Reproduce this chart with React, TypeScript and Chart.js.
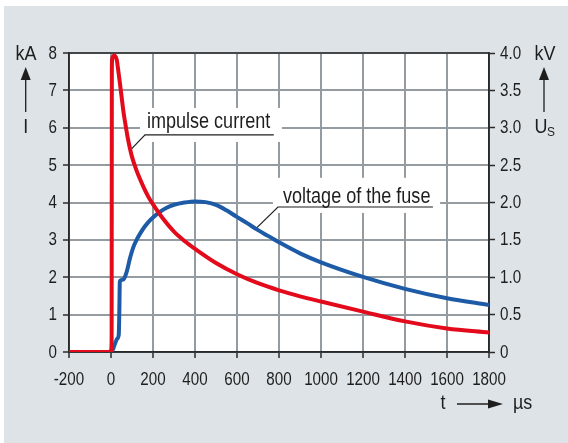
import React, { useEffect, useRef } from 'react';
import { Chart, registerables } from 'chart.js';

Chart.register(...registerables);

// ---- data ----
// impulse current I in kA over time t in µs
const currentTime = [-200, -10, 0, 3, 4, 7, 14, 22, 28, 33, 40, 50, 60, 70, 80, 90, 100, 120, 140, 160, 180, 200, 250, 300, 350, 400, 500, 600, 700, 800, 900, 1000, 1200, 1400, 1600, 1800];
const currentKA = [0, 0, 0.03, 0.3, 7.6, 7.88, 7.93, 7.9, 7.8, 7.6, 7.3, 6.85, 6.4, 6.05, 5.72, 5.45, 5.22, 4.88, 4.6, 4.35, 4.13, 3.95, 3.55, 3.22, 2.97, 2.76, 2.38, 2.08, 1.84, 1.65, 1.49, 1.35, 1.08, 0.82, 0.63, 0.52];

// voltage of the fuse U_S in kV over time t in µs
const voltageTime = [-200, -5, 10, 19, 30, 37, 40, 42, 46, 52, 59, 75, 90, 106, 122, 140, 160, 180, 200, 233, 265, 300, 350, 400, 450, 503, 550, 595, 650, 694, 750, 805, 900, 1000, 1200, 1400, 1600, 1800];
const voltageKV = [0, 0, 0.04, 0.11, 0.18, 0.23, 0.6, 0.94, 0.96, 0.965, 0.97, 1.075, 1.25, 1.4, 1.5, 1.59, 1.675, 1.745, 1.8, 1.875, 1.93, 1.97, 2.0, 2.015, 2.005, 1.965, 1.895, 1.815, 1.72, 1.64, 1.55, 1.46, 1.32, 1.2, 1.005, 0.845, 0.72, 0.63];

const timeRange = [-200, 1800];
const timeStep = 200;
const currentRange = [0, 8];
const currentStep = 1;
const voltageRange = [0, 4];
const voltageStep = 0.5;

const labelCurrent = 'impulse current';
const labelVoltage = 'voltage of the fuse';

// ---- styling ----
const FONT = '"Liberation Sans", Arial, sans-serif';
const NARROW = 0.82;
const TEXT = '#1e1e1e';
const PANEL = '#dde3e7';
const GRID = '#949ca2';
const AXIS = '#2a2a2a';
const RED = '#e30a1c';
const BLUE = '#1d5ba6';

function narrowText(
  ctx: CanvasRenderingContext2D,
  text: string,
  x: number,
  y: number,
  size: number,
  align: CanvasTextAlign = 'left',
  baseline: CanvasTextBaseline = 'alphabetic',
  squeeze: number = NARROW
) {
  ctx.save();
  ctx.translate(x, y);
  ctx.scale(squeeze, 1);
  ctx.font = `${size}px ${FONT}`;
  ctx.textAlign = align;
  ctx.textBaseline = baseline;
  ctx.fillText(text, 0, 0);
  ctx.restore();
}

function arrowUp(ctx: CanvasRenderingContext2D, x: number, yTop: number, yBottom: number) {
  ctx.beginPath();
  ctx.moveTo(x, yBottom);
  ctx.lineTo(x, yTop + 10);
  ctx.stroke();
  ctx.beginPath();
  ctx.moveTo(x, yTop);
  ctx.lineTo(x - 5, yTop + 13);
  ctx.lineTo(x + 5, yTop + 13);
  ctx.closePath();
  ctx.fill();
}

function arrowRight(ctx: CanvasRenderingContext2D, xLeft: number, xRight: number, y: number) {
  ctx.beginPath();
  ctx.moveTo(xLeft, y);
  ctx.lineTo(xRight - 10, y);
  ctx.stroke();
  ctx.beginPath();
  ctx.moveTo(xRight, y);
  ctx.lineTo(xRight - 15, y - 4.5);
  ctx.lineTo(xRight - 15, y + 4.5);
  ctx.closePath();
  ctx.fill();
}

const fmtV = (v: number) => (v === 0 ? '0' : v.toFixed(1));

const decorPlugin = {
  id: 'decor',
  beforeDraw(chart: any) {
    const { ctx, width, height, chartArea: a } = chart;
    ctx.save();
    ctx.fillStyle = '#ffffff';
    ctx.fillRect(0, 0, width, height);
    ctx.fillStyle = PANEL;
    ctx.fillRect(4, 6, width - 4, height - 6);
    ctx.fillStyle = '#ffffff';
    ctx.fillRect(a.left, a.top, a.right - a.left, a.bottom - a.top);
    ctx.restore();
  },
  beforeDatasetsDraw(chart: any) {
    const { ctx, chartArea: a, scales } = chart;
    const sx = scales.x;
    const sy = scales.y;
    ctx.save();
    // frame
    ctx.strokeStyle = AXIS;
    ctx.lineWidth = 1.5;
    ctx.strokeRect(a.left, a.top, a.right - a.left, a.bottom - a.top);

    const drawLabel = (
      text: string,
      box: [number, number, number, number],
      textAt: [number, number],
      underline: [number, number, number],
      leaderTo: [number, number]
    ) => {
      const bx0 = sx.getPixelForValue(box[0]);
      const bx1 = sx.getPixelForValue(box[1]);
      const by0 = sy.getPixelForValue(box[2]);
      const by1 = sy.getPixelForValue(box[3]);
      ctx.fillStyle = '#ffffff';
      ctx.fillRect(bx0, by0, bx1 - bx0, by1 - by0);
      ctx.fillStyle = TEXT;
      narrowText(ctx, text, sx.getPixelForValue(textAt[0]), sy.getPixelForValue(textAt[1]), 22);
      const uy = sy.getPixelForValue(underline[2]);
      const ux0 = sx.getPixelForValue(underline[0]);
      const ux1 = sx.getPixelForValue(underline[1]);
      ctx.strokeStyle = '#1e1e1e';
      ctx.lineWidth = 1.2;
      ctx.beginPath();
      ctx.moveTo(ux1, uy);
      ctx.lineTo(ux0, uy);
      ctx.lineTo(sx.getPixelForValue(leaderTo[0]), sy.getPixelForValue(leaderTo[1]));
      ctx.stroke();
    };

    drawLabel(labelCurrent, [138, 814, 6.53, 5.62], [171, 6.0], [162, 775, 5.81], [92, 5.4]);
    drawLabel(labelVoltage, [771, 1567, 4.66, 3.72], [819, 3.99], [795, 1533, 3.88], [690, 3.3]);
    ctx.restore();
  },
  afterDraw(chart: any) {
    const { ctx, scales } = chart;
    const sx = scales.x;
    const sy = scales.y;
    const sy2 = scales.y2;
    ctx.save();
    ctx.fillStyle = TEXT;
    ctx.strokeStyle = TEXT;
    ctx.lineWidth = 1.3;

    // tick labels, positioned through the scales
    const bottom = sx.top;
    sx.ticks.forEach((t: any) => {
      narrowText(ctx, String(t.value), sx.getPixelForValue(t.value), bottom + 28, 18.5, 'center', 'middle');
    });
    sy.ticks.forEach((t: any) => {
      narrowText(ctx, String(t.value), sy.right - 12, sy.getPixelForValue(t.value) + 0.5, 18.5, 'right', 'middle');
    });
    sy2.ticks.forEach((t: any) => {
      narrowText(ctx, fmtV(t.value), sy2.left + 11, sy2.getPixelForValue(t.value) + 0.5, 18.5, 'left', 'middle');
    });

    // left axis unit
    narrowText(ctx, 'kA', 26, 60, 19.5, 'center', 'alphabetic', 0.92);
    arrowUp(ctx, 25.7, 67, 112);
    narrowText(ctx, 'I', 25.7, 133, 19.5, 'center', 'alphabetic', 0.92);
    // right axis unit
    narrowText(ctx, 'kV', 545, 60, 19.5, 'center', 'alphabetic', 0.92);
    arrowUp(ctx, 544, 67, 112);
    narrowText(ctx, 'U', 534.5, 133, 19.5, 'left', 'alphabetic', 0.92);
    narrowText(ctx, 'S', 547, 136, 13, 'left', 'alphabetic', 0.92);
    // bottom axis unit
    narrowText(ctx, 't', 443, 409, 19.5, 'center', 'alphabetic', 0.92);
    arrowRight(ctx, 457, 503, 404);
    narrowText(ctx, 'µs', 513, 409, 19.5, 'left', 'alphabetic', 0.92);
    ctx.restore();
  },
};

export default function App() {
  const canvasRef = useRef<HTMLCanvasElement | null>(null);

  useEffect(() => {
    document.body.style.margin = '0';
    const canvas = canvasRef.current;
    if (!canvas) return;
    const gridCommon = { tickLength: 6, tickColor: AXIS, tickWidth: 1.5 };
    const chart = new Chart(canvas, {
      type: 'line',
      data: {
        datasets: [
          {
            label: labelCurrent,
            data: currentTime.map((t, i) => ({ x: t, y: currentKA[i] })),
            yAxisID: 'y',
            borderColor: RED,
            borderWidth: 4,
            pointRadius: 0,
            cubicInterpolationMode: 'monotone',
            fill: false,
            order: 0,
          },
          {
            label: labelVoltage,
            data: voltageTime.map((t, i) => ({ x: t, y: voltageKV[i] })),
            yAxisID: 'y2',
            borderColor: BLUE,
            borderWidth: 4,
            pointRadius: 0,
            cubicInterpolationMode: 'monotone',
            fill: false,
            order: 1,
          },
        ],
      },
      options: {
        responsive: false,
        animation: false,
        devicePixelRatio: 1,
        layout: { padding: { top: 53, left: 0, right: 0, bottom: 0 } },
        plugins: { legend: { display: false }, tooltip: { enabled: false } },
        scales: {
          x: {
            type: 'linear',
            min: timeRange[0],
            max: timeRange[1],
            afterFit: (s: any) => { s.height = 91; },
            ticks: { stepSize: timeStep, display: false, autoSkip: false },
            grid: { color: GRID, lineWidth: 2, ...gridCommon },
            border: { display: true, color: AXIS, width: 1.5 },
          },
          y: {
            type: 'linear',
            position: 'left',
            min: currentRange[0],
            max: currentRange[1],
            afterFit: (s: any) => { s.width = 69; },
            ticks: { stepSize: currentStep, display: false },
            grid: { color: GRID, lineWidth: 2, ...gridCommon },
            border: { display: true, color: AXIS, width: 1.5 },
          },
          y2: {
            type: 'linear',
            position: 'right',
            min: voltageRange[0],
            max: voltageRange[1],
            afterFit: (s: any) => { s.width = 79; },
            ticks: { stepSize: voltageStep, display: false },
            grid: { drawOnChartArea: false, ...gridCommon },
            border: { display: true, color: AXIS, width: 1.5 },
          },
        },
      },
      plugins: [decorPlugin],
    } as any);
    return () => chart.destroy();
  }, []);

  return (
    <div style={{ width: 568, height: 443, position: 'relative' }}>
      <canvas ref={canvasRef} width={568} height={443} style={{ display: 'block' }} />
    </div>
  );
}
